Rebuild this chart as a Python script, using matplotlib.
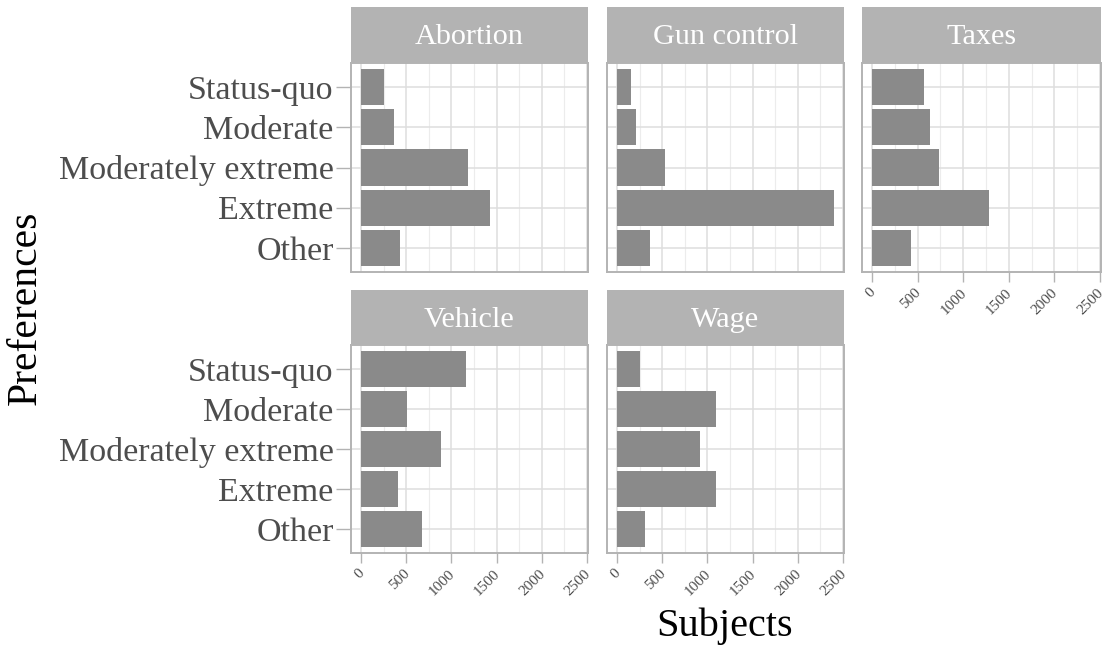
import matplotlib
matplotlib.use("Agg")
import matplotlib.pyplot as plt
from matplotlib.ticker import MultipleLocator, FixedLocator
import matplotlib.transforms as mtransforms

# ---- data ----
categories = ["Status-quo", "Moderate", "Moderately extreme", "Extreme", "Other"]
abortion = [250, 365, 1185, 1425, 430]
gun_control = [155, 210, 530, 2395, 365]
taxes = [565, 640, 730, 1280, 425]
vehicle = [1160, 505, 885, 415, 670]
wage = [255, 1090, 915, 1090, 310]
panel_titles = ["Abortion", "Gun control", "Taxes", "Vehicle", "Wage"]
x_ticks = [0, 500, 1000, 1500, 2000, 2500]
x_ticklabels = ["0", "500", "1000", "1500", "2000", "2500"]

FONT = "Liberation Serif"
plt.rcParams["font.family"] = [FONT, "DejaVu Serif"]

W, H = 1109, 649
fig = plt.figure(figsize=(W / 100, H / 100), dpi=100)


def px_axes(x0, y0, x1, y1):
    return fig.add_axes([x0 / W, 1 - y1 / H, (x1 - x0) / W, (y1 - y0) / H])


cols = [(351, 588), (607, 844), (862, 1101)]
rows = [(7, 63, 272), (290, 345, 553)]
panel_data = [abortion, gun_control, taxes, vehicle, wage]
placement = [(0, 0), (0, 1), (0, 2), (1, 0), (1, 1)]
show_x = [False, False, True, True, True]

ypos = list(range(1, len(categories) + 1))
border = "#b3b3b3"
txtgray = "#4d4d4d"

for title, vals, (r, c), sx in zip(panel_titles, panel_data, placement, show_x):
    cx0, cx1 = cols[c]
    sy0, py0, py1 = rows[r]
    ax = px_axes(cx0, py0, cx1, py1)
    ax.barh(ypos, vals, height=0.9, color="#8a8a8a", zorder=3)
    ax.set_xlim(-110, 2511)
    ax.set_ylim(5.6, 0.4)
    ax.xaxis.set_major_locator(FixedLocator(x_ticks))
    ax.xaxis.set_minor_locator(MultipleLocator(250))
    ax.set_yticks(ypos)
    ax.set_axisbelow(True)
    ax.grid(which="major", color="#dedede", linewidth=1.1, zorder=0)
    ax.grid(which="minor", axis="x", color="#ececec", linewidth=0.8, zorder=0)
    for s in ax.spines.values():
        s.set_color(border)
        s.set_linewidth(1.4)
    ax.tick_params(which="minor", length=0)
    if c == 0:
        ax.set_yticklabels(categories)
        ax.tick_params(axis="y", length=11, width=1.0, color=border,
                       labelsize=24.5, labelcolor=txtgray, pad=1.5)
    else:
        ax.tick_params(axis="y", left=False, labelleft=False)
    ax.set_xticklabels([])
    if sx:
        ax.tick_params(axis="x", length=7, width=1.0, color=border)
        tr = mtransforms.blended_transform_factory(ax.transData, ax.transAxes) + \
            mtransforms.ScaledTranslation(6 / 100, -14 / 100, fig.dpi_scale_trans)
        for t, lab in zip(x_ticks, x_ticklabels):
            ax.text(t, 0, lab, transform=tr, rotation=45, ha="right", va="top",
                    fontsize=11, color=txtgray, clip_on=False)
    else:
        ax.tick_params(axis="x", bottom=False, length=0)

    sax = px_axes(cx0, sy0, cx1, py0)
    sax.set_facecolor(border)
    for s in sax.spines.values():
        s.set_visible(False)
    sax.set_xticks([])
    sax.set_yticks([])
    sax.text(0.5, 0.46, title, transform=sax.transAxes, ha="center", va="center",
             color="white", fontsize=21.8)

fig.text(725 / W, 1 - 626 / H, "Subjects", ha="center", va="center",
         fontsize=29, color="black")
fig.text(26 / W, 1 - 308 / H, "Preferences", ha="center", va="center",
         rotation=90, fontsize=30, color="black")

fig.savefig("out.png", dpi=100)
